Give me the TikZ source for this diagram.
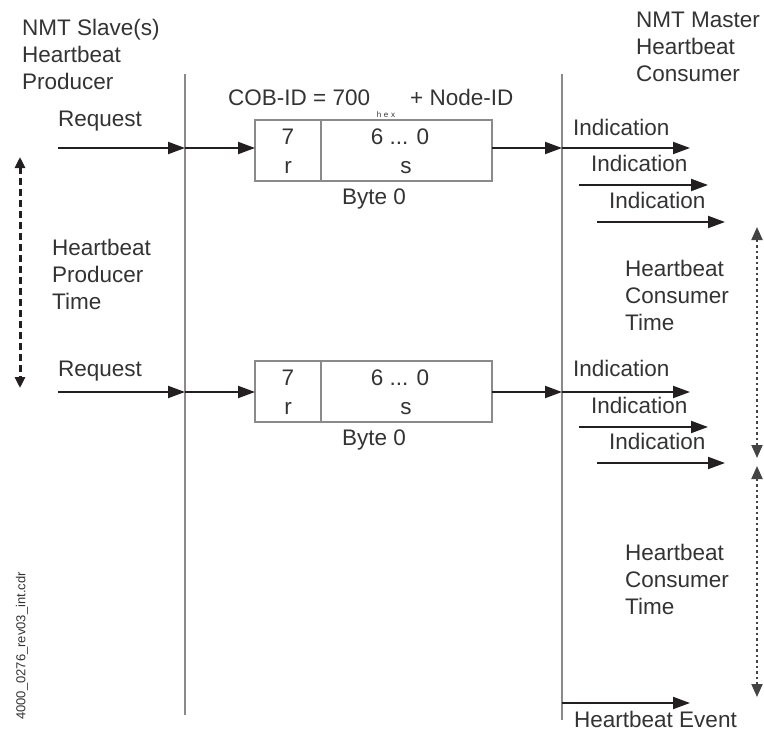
\documentclass[tikz,border=0pt]{standalone}
\usepackage{fontspec}
\setmainfont{Liberation Sans}
\usetikzlibrary{arrows.meta}
\definecolor{txt}{HTML}{333333}
\definecolor{ink}{HTML}{231F20}
\definecolor{rule}{HTML}{8A8A8A}
\definecolor{dots}{HTML}{444444}
\tikzset{
  lbl/.style={inner sep=0pt, text=txt, font=\fontsize{22.5}{27}\selectfont},
  blk/.style={lbl, align=left, anchor=north west},
  msg/.style={line width=2pt, draw=ink, -{Triangle[length=17pt,width=12pt]}},
  life/.style={line width=1.2pt, draw=rule},
  cell/.style={draw=rule, line width=1.1pt, minimum height=61pt, inner sep=0pt, outer sep=0pt},
  tdot/.style={line width=2pt, draw=dots, dash pattern=on 2.5pt off 3pt, {Triangle[length=13pt,width=11pt]}-{Triangle[length=13pt,width=11pt]}},
  tdash/.style={line width=3pt, draw=ink, dash pattern=on 7pt off 4pt, {Triangle[length=11pt,width=10pt]}-{Triangle[length=11pt,width=10pt]}}
}
\begin{document}
\begin{tikzpicture}[x=1pt,y=-1pt]
\useasboundingbox (0,0) rectangle (764,731);
% lifelines
\coordinate (lt) at (185,74); \coordinate (lb) at (185,715);
\coordinate (rt) at (562,74); \coordinate (rb) at (562,720);
\draw[life] (lt) -- (lb);
\draw[life] (rt) -- (rb);
% headers
\node[blk] (slave) at (22,19) {NMT Slave(s)\\Heartbeat\\Producer};
\node[blk] (master) at (636,12) {NMT Master\\Heartbeat\\Consumer};
\node[blk] (hpt) at (52,239) {Heartbeat\\Producer\\Time};
\node[blk] (hct1) at (625,260) {Heartbeat\\Consumer\\Time};
\node[blk] (hct2) at (625,544) {Heartbeat\\Consumer\\Time};
% COB-ID
\node[lbl, anchor=base west] (cob) at (228,105) {COB-ID = 700};
\node[inner sep=0pt, text=txt, font=\fontsize{8}{9}\selectfont, anchor=base] (hex) at (386,117) {h\,\,e\,\,x};
\node[lbl, anchor=base west] (nid) at (410,105) {+ Node-ID};
% frame 1
\node[cell, minimum width=66pt, anchor=north west] (b1r) at (255,120) {};
\node[cell, minimum width=171pt, anchor=north west] (b1s) at (321,120) {};
\node[lbl, anchor=base] (b1a) at (288,144) {7};
\node[lbl, anchor=base] (b1b) at (288,173) {r};
\node[lbl, anchor=base] (b1c) at (400,144) {6 ... 0};
\node[lbl, anchor=base] (b1d) at (406,173) {s};
\node[lbl, anchor=base] (by1) at (374,204) {Byte 0};
% frame 2
\node[cell, minimum width=66pt, anchor=north west] (b2r) at (255,361) {};
\node[cell, minimum width=171pt, anchor=north west] (b2s) at (321,361) {};
\node[lbl, anchor=base] (b2a) at (288,385) {7};
\node[lbl, anchor=base] (b2b) at (288,414) {r};
\node[lbl, anchor=base] (b2c) at (400,385) {6 ... 0};
\node[lbl, anchor=base] (b2d) at (406,414) {s};
\node[lbl, anchor=base] (by2) at (374,445) {Byte 0};
% requests
\node[lbl, anchor=base west] (rq1) at (58,126) {Request};
\node[lbl, anchor=base west] (rq2) at (58,376) {Request};
\coordinate (r1s) at (58,148); \coordinate (r1l) at (185,148);
\coordinate (r2s) at (58,392); \coordinate (r2l) at (185,392);
\draw[msg] (r1s) -- (r1l);
\draw[msg] (r1l) -- (r1l -| b1r.west);
\draw[msg] (r2s) -- (r2l);
\draw[msg] (r2l) -- (r2l -| b2r.west);
\coordinate (o1) at (562,148); \coordinate (o2) at (562,392);
\draw[msg] (o1 -| b1s.east) -- (o1);
\draw[msg] (o2 -| b2s.east) -- (o2);
% indications set 1
\node[lbl, anchor=base west] (i11) at (573,135) {Indication};
\node[lbl, anchor=base west] (i12) at (591,171) {Indication};
\node[lbl, anchor=base west] (i13) at (609,208) {Indication};
\coordinate (a11) at (690,148); \coordinate (s12) at (579,185); \coordinate (a12) at (708,185);
\coordinate (s13) at (597,222); \coordinate (a13) at (725,222);
\draw[msg] (o1) -- (a11);
\draw[msg] (s12) -- (a12);
\draw[msg] (s13) -- (a13);
% indications set 2
\node[lbl, anchor=base west] (i21) at (573,376) {Indication};
\node[lbl, anchor=base west] (i22) at (591,413) {Indication};
\node[lbl, anchor=base west] (i23) at (609,449) {Indication};
\coordinate (a21) at (690,392); \coordinate (s22) at (579,427); \coordinate (a22) at (708,427);
\coordinate (s23) at (597,463); \coordinate (a23) at (725,463);
\draw[msg] (o2) -- (a21);
\draw[msg] (s22) -- (a22);
\draw[msg] (s23) -- (a23);
% heartbeat event
\coordinate (ev0) at (562,703); \coordinate (ev1) at (690,703);
\draw[msg] (ev0) -- (ev1);
\node[lbl, anchor=base west] (ev) at (574,727) {Heartbeat Event};
% timing arrows
\coordinate (pt) at (20,157); \coordinate (pb) at (20,388);
\draw[tdash] (pt) -- (pb);
\coordinate (c1t) at (757,227); \coordinate (c1b) at (757,458);
\coordinate (c2t) at (757,466); \coordinate (c2b) at (757,697);
\draw[tdot] (c1t) -- (c1b);
\draw[tdot] (c2t) -- (c2b);
% file tag
\node[inner sep=0pt, text=txt, font=\fontsize{13}{15}\selectfont, rotate=90] (tag) at (22,646) {4000\_0276\_rev03\_int.cdr};
\end{tikzpicture}
\end{document}
